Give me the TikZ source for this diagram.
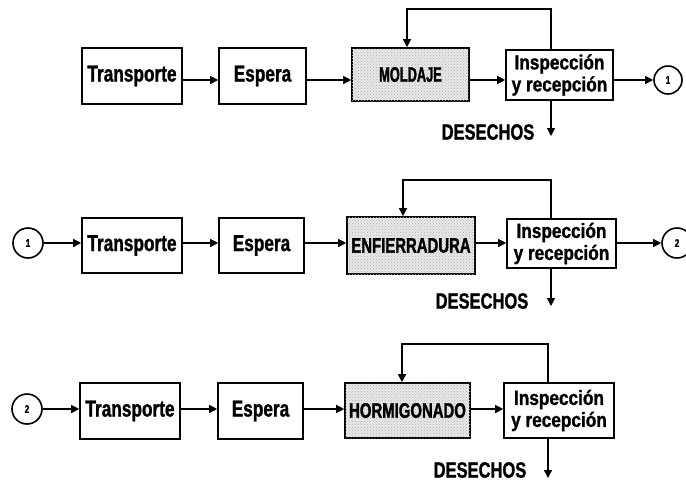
\documentclass[tikz,border=0pt]{standalone}
\usepackage{fontspec}
\setmainfont{Liberation Sans}[FakeStretch=0.75, BoldFeatures={FakeBold=1.2}]
\newfontfamily\inspfont{Liberation Sans}[FakeStretch=0.84, BoldFeatures={FakeBold=1.2}]
\newfontfamily\tightfont{Liberation Sans}[FakeStretch=0.71, BoldFeatures={FakeBold=1.4}]
\newfontfamily\narrowfont{Liberation Sans}[FakeStretch=0.61, BoldFeatures={FakeBold=1.4}]
\usetikzlibrary{arrows.meta,patterns}

\tikzset{
  stepbox/.style={draw, line width=1.6pt, fill=white, inner sep=0pt,
    font=\bfseries\fontsize{23}{23}\selectfont, align=center},
  checkbox/.style={stepbox, font=\inspfont\bfseries\fontsize{20.5}{22}\selectfont},
  workbox/.style={stepbox, fill=black!9,
    postaction={pattern=crosshatch dots, pattern color=black!30},
    font=\tightfont\bfseries\fontsize{21}{21}\selectfont},
  connector/.style={draw, line width=1.6pt, circle, inner sep=0pt,
    minimum size=#1, font=\bfseries\fontsize{11}{11}\selectfont},
  flow/.style={line width=1.3pt, -{Triangle[length=8pt,width=8pt]}},
  waste/.style={font=\bfseries\fontsize{22}{22}\selectfont}
}

\begin{document}
\begin{tikzpicture}[x=1pt,y=-1pt]
\useasboundingbox (0,0) rectangle (686,483);
\begin{scope}
\clip (0,0) rectangle (686,483);

% ---------- stage 1: formwork ----------
\coordinate (r1) at (0,80);
\node[stepbox, minimum width=100pt, minimum height=56pt] (T1) at (132,76) {Transporte};
\node[stepbox, minimum width=87pt, minimum height=56pt] (E1) at (262.5,76) {Espera};
\node[workbox, minimum width=117pt, minimum height=53pt, font=\narrowfont\bfseries\fontsize{21}{21}\selectfont] (M1) at (410.5,74.5) {MOLDAJE};
\node[checkbox, minimum width=107pt, minimum height=50pt] (I1) at (559.5,75) {Inspección\\y recepción};
\node[connector=28pt] (C1) at (668,80) {1};
\coordinate (f1r) at (551,9);
\coordinate (f1l) at (407,9);
\coordinate (d1) at (551,136);
\node[waste] (W1) at (488,132) {DESECHOS};

\draw[flow] (T1.east |- r1) -- (E1.west |- r1);
\draw[flow] (E1.east |- r1) -- (M1.west |- r1);
\draw[flow] (M1.east |- r1) -- (I1.west |- r1);
\draw[flow] (I1.east |- r1) -- (C1.west);
\draw[flow] (f1r |- I1.north) -- (f1r) -- (f1l) -- (f1l |- M1.north);
\draw[flow] (f1r |- I1.south) -- (d1);

% ---------- stage 2: reinforcement ----------
\coordinate (r2) at (0,243);
\node[connector=30pt] (C1b) at (28,243) {1};
\node[stepbox, minimum width=100pt, minimum height=55pt] (T2) at (132,245.5) {Transporte};
\node[stepbox, minimum width=85pt, minimum height=55pt] (E2) at (261.5,245.5) {Espera};
\node[workbox, minimum width=128pt, minimum height=57pt] (M2) at (411,245.5) {ENFIERRADURA};
\node[checkbox, minimum width=109pt, minimum height=49pt] (I2) at (561.5,243.5) {Inspección\\y recepción};
\node[connector=30pt] (C2) at (677,243) {2};
\coordinate (f2r) at (551,180);
\coordinate (f2l) at (403,180);
\coordinate (d2) at (551,306);
\node[waste] (W2) at (482,301) {DESECHOS};

\draw[flow] (C1b.east) -- (T2.west |- r2);
\draw[flow] (T2.east |- r2) -- (E2.west |- r2);
\draw[flow] (E2.east |- r2) -- (M2.west |- r2);
\draw[flow] (M2.east |- r2) -- (I2.west |- r2);
\draw[flow] (I2.east |- r2) -- (C2.west);
\draw[flow] (f2r |- I2.north) -- (f2r) -- (f2l) -- (f2l |- M2.north);
\draw[flow] (f2r |- I2.south) -- (d2);

% ---------- stage 3: concreting ----------
\coordinate (r3) at (0,409);
\node[connector=30pt] (C2b) at (27,409) {2};
\node[stepbox, minimum width=100pt, minimum height=56pt] (T3) at (130,411) {Transporte};
\node[stepbox, minimum width=85pt, minimum height=56pt] (E3) at (260.5,411) {Espera};
\node[workbox, minimum width=125pt, minimum height=55pt] (M3) at (407.5,410.5) {HORMIGONADO};
\node[checkbox, minimum width=110pt, minimum height=55pt] (I3) at (559,410.5) {Inspección\\y recepción};
\coordinate (f3r) at (548,344);
\coordinate (f3l) at (402,344);
\coordinate (d3) at (548,478);
\node[waste] (W3) at (480,470) {DESECHOS};

\draw[flow] (C2b.east) -- (T3.west |- r3);
\draw[flow] (T3.east |- r3) -- (E3.west |- r3);
\draw[flow] (E3.east |- r3) -- (M3.west |- r3);
\draw[flow] (M3.east |- r3) -- (I3.west |- r3);
\draw[flow] (f3r |- I3.north) -- (f3r) -- (f3l) -- (f3l |- M3.north);
\draw[flow] (f3r |- I3.south) -- (d3);
\end{scope}
\end{tikzpicture}
\end{document}
